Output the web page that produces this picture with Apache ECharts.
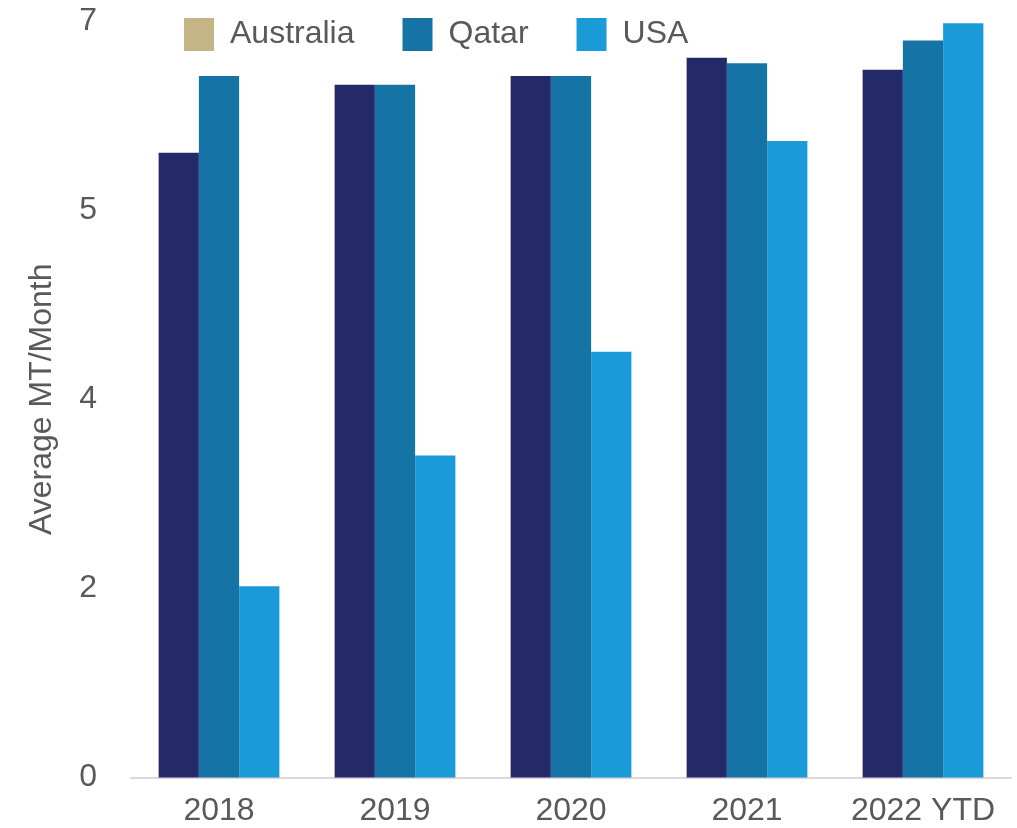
<!DOCTYPE html>
<html>
<head>
<meta charset="utf-8">
<script src="https://cdn.jsdelivr.net/npm/echarts@6/dist/echarts.min.js"></script>
<style>
html,body{margin:0;padding:0;background:#fff;}
#chart{width:1017px;height:828px;}
</style>
</head>
<body>
<div id="chart"></div>
<script>
const categories = ['2018', '2019', '2020', '2021', '2022 YTD'];
const australia = [5.78, 6.41, 6.49, 6.66, 6.55];
const qatar = [6.49, 6.41, 6.49, 6.61, 6.82];
const usa = [1.77, 2.98, 3.94, 5.89, 6.98];
const seriesNames = ['Australia', 'Qatar', 'USA'];

const FONT = '"Liberation Sans", Arial, sans-serif';
const TXT = '#595959';

const chart = echarts.init(document.getElementById('chart'));
chart.setOption({
  animation: false,
  backgroundColor: '#ffffff',
  grid: { left: 131, right: 6, top: 21, bottom: 50.5 },
  legend: {
    left: 179, top: 13,
    itemWidth: 30, itemHeight: 33, itemGap: 48,
    icon: 'rect',
    textStyle: { fontFamily: FONT, fontSize: 32, color: TXT, padding: [0, 0, 0, 11] },
    data: [
      { name: seriesNames[0], itemStyle: { color: '#c4b486' } },
      { name: seriesNames[1], itemStyle: { color: '#1574a5' } },
      { name: seriesNames[2], itemStyle: { color: '#1a9ad6' } }
    ]
  },
  xAxis: {
    type: 'category',
    data: categories,
    axisLine: { lineStyle: { color: '#d9d9d9', width: 2 } },
    axisTick: { show: false },
    axisLabel: { fontFamily: FONT, fontSize: 32, color: TXT, margin: 18, interval: 0 }
  },
  yAxis: {
    type: 'value',
    min: 0, max: 7, interval: 1.75,
    name: 'Average MT/Month',
    nameLocation: 'middle',
    nameGap: 73,
    nameTextStyle: { fontFamily: FONT, fontSize: 32, color: TXT },
    axisLine: { show: false },
    axisTick: { show: false },
    splitLine: { show: false },
    axisLabel: {
      fontFamily: FONT, fontSize: 32, color: TXT, margin: 34,
      formatter: v => String(Math.round(v))
    }
  },
  series: [
    { name: seriesNames[0], type: 'bar', data: australia, barGap: '0%', barCategoryGap: '31.4%', itemStyle: { color: '#242a68' } },
    { name: seriesNames[1], type: 'bar', data: qatar, barGap: '0%', barCategoryGap: '31.4%', itemStyle: { color: '#1574a5' } },
    { name: seriesNames[2], type: 'bar', data: usa, barGap: '0%', barCategoryGap: '31.4%', itemStyle: { color: '#1a9ad6' } }
  ]
});
</script>
</body>
</html>
